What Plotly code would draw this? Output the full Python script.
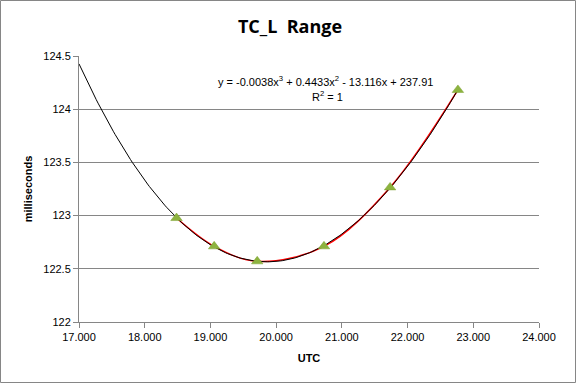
import numpy as np
import plotly.graph_objects as go

utc = [18.484, 19.057, 19.712, 20.728, 21.734, 22.766]
ms = [122.977, 122.711, 122.570, 122.711, 123.265, 124.181]

x_ticks = [17, 18, 19, 20, 21, 22, 23, 24]
x_tick_labels = ["17.000", "18.000", "19.000", "20.000", "21.000", "22.000", "23.000", "24.000"]
y_ticks = [122, 122.5, 123, 123.5, 124, 124.5]
y_tick_labels = ["122", "122.5", "123", "123.5", "124", "124.5"]

trend_start = 17.0
coeffs = np.polyfit(utc, ms, 3)
tx = np.linspace(trend_start, max(utc), 200)
ty = np.polyval(coeffs, tx)

W, H = 577, 384
L, R, T, B = 79, 38, 56, 62
pw, ph = W - L - R, H - T - B

fig = go.Figure()
fig.add_trace(go.Scatter(x=utc, y=ms, mode="lines", line=dict(color="#FF0000", width=1.5, shape="spline"),
                         hoverinfo="skip", showlegend=False))
fig.add_trace(go.Scatter(x=tx, y=ty, mode="lines", line=dict(color="#000000", width=1),
                         hoverinfo="skip", showlegend=False))
fig.add_trace(go.Scatter(x=utc, y=ms, mode="markers",
                         marker=dict(symbol="triangle-up", size=10, color="#8DB33F",
                                     line=dict(color="#7AA02F", width=0.5)),
                         showlegend=False))

fig.update_layout(
    width=W, height=H,
    margin=dict(l=L, r=R, t=T, b=B, autoexpand=False),
    paper_bgcolor="white", plot_bgcolor="white",
    font=dict(family="Liberation Sans, Arial, sans-serif", size=11, color="#000000"),
    title=dict(text="<b>TC_L  Range</b>", x=(290) / W, xanchor="center", y=1 - 27 / H, yanchor="middle",
               font=dict(family="Open Sans, Liberation Sans, sans-serif", size=18, color="#000000")),
    xaxis=dict(range=[17, 24], tickvals=x_ticks, ticktext=x_tick_labels, showgrid=False,
               showline=True, linecolor="#868686", linewidth=1, ticks="outside", ticklen=5,
               tickcolor="#868686", zeroline=False, tickfont=dict(size=11), automargin=False,
               title=dict(text="<b>UTC</b>", font=dict(size=11), standoff=12)),
    yaxis=dict(range=[122, 124.5], tickvals=y_ticks, ticktext=y_tick_labels, showgrid=True,
               gridcolor="#868686", gridwidth=1, showline=True, linecolor="#868686", linewidth=1,
               ticks="outside", ticklen=5, tickcolor="#868686", zeroline=False, tickfont=dict(size=11),
               automargin=False,
               title=dict(text="<b>milliseconds</b>", font=dict(size=11), standoff=8)),
    annotations=[
        dict(x=(325 - L) / pw, y=1 - (81 - T) / ph, xref="paper", yref="paper",
             text="y = -0.0038x<sup>3</sup> + 0.4433x<sup>2</sup> - 13.116x + 237.91",
             showarrow=False, xanchor="center", yanchor="middle", font=dict(size=11)),
        dict(x=(327 - L) / pw, y=1 - (96 - T) / ph, xref="paper", yref="paper",
             text="R<sup>2</sup> = 1", showarrow=False, xanchor="center", yanchor="middle",
             font=dict(size=11)),
    ],
    shapes=[dict(type="rect", xref="paper", yref="paper",
                 x0=-(L - 0.5) / pw, x1=1 + (R - 1.5) / pw,
                 y0=-(B - 1.5) / ph, y1=1 + (T - 0.5) / ph,
                 line=dict(color="#868686", width=1), layer="below")],
)

fig.write_html("out.html", config={"displayModeBar": False},
               post_script="document.body.style.margin='0';document.body.style.padding='0';document.body.style.overflow='hidden';")
